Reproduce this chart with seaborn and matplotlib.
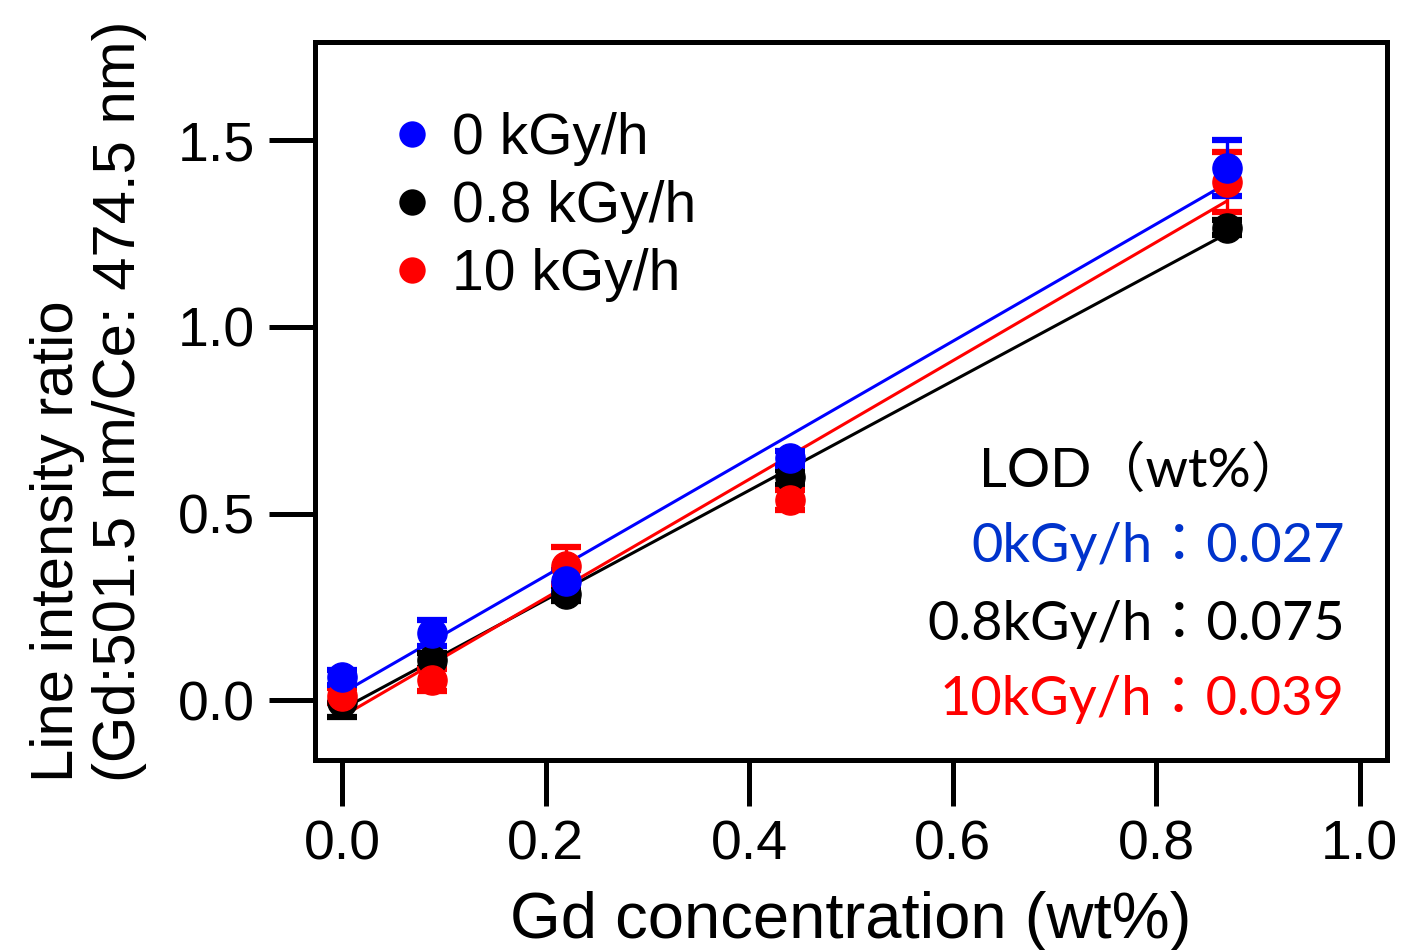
import matplotlib
matplotlib.use("Agg")
import matplotlib.pyplot as plt
from matplotlib.lines import Line2D
import numpy as np
import seaborn as sns

# Gd concentration (wt%) of the calibration samples
gd_conc = [0.0, 0.088, 0.22, 0.44, 0.87]

# Line intensity ratio (Gd 501.5 nm / Ce 474.5 nm) and its standard deviation
ratio_0 = [0.062, 0.180, 0.320, 0.648, 1.425]
err_0 = [0.020, 0.035, 0.030, 0.020, 0.075]
ratio_08 = [-0.005, 0.107, 0.285, 0.597, 1.265]
err_08 = [0.040, 0.020, 0.020, 0.020, 0.020]
ratio_10 = [0.012, 0.054, 0.360, 0.536, 1.388]
err_10 = [0.020, 0.030, 0.050, 0.027, 0.080]

series_labels = ["0 kGy/h", "0.8 kGy/h", "10 kGy/h"]
series_colors = ["#0000FF", "#000000", "#FF0000"]

lod_title = "LOD（wt%）"
lod_lines = ["0kGy/h：0.027", "0.8kGy/h：0.075", "10kGy/h：0.039"]
lod_colors = ["#0033CC", "#000000", "#FF0000"]

x_ticks = [0.0, 0.2, 0.4, 0.6, 0.8, 1.0]
y_ticks = [0.0, 0.5, 1.0, 1.5]

sns.set_style("ticks")
plt.rcParams["font.family"] = ["Liberation Sans", "DejaVu Sans"]
plt.rcParams["text.color"] = "black"
plt.rcParams["axes.labelcolor"] = "black"

fig = plt.figure(figsize=(14.15, 9.5), dpi=100)
ax = fig.add_axes([0.2226, 0.2, 0.7574, 0.7558])

series = [(ratio_08, err_08, 1), (ratio_10, err_10, 2), (ratio_0, err_0, 0)]

# regression lines under the points
for ys, _, ci in series:
    sns.regplot(x=np.array(gd_conc), y=np.array(ys), ax=ax, scatter=False, ci=None,
                truncate=True, color=series_colors[ci],
                line_kws=dict(lw=2.2, zorder=2))

# measured points with error bars
for ys, errs, ci in series:
    ax.errorbar(gd_conc, ys, yerr=errs, fmt="o", color=series_colors[ci],
                ms=21, elinewidth=2.4, capsize=11, capthick=4.5, zorder=3)

ax.set_xlim(-0.0265, 1.0265)
ax.set_ylim(-0.16, 1.7625)
ax.set_xticks(x_ticks)
ax.set_yticks(y_ticks)
ax.set_xticklabels([f"{v:.1f}" for v in x_ticks])
ax.set_yticklabels([f"{v:.1f}" for v in y_ticks])

for s in ax.spines.values():
    s.set_linewidth(3.6)
    s.set_color("black")
ax.tick_params(axis="both", direction="out", length=33, width=3.6,
               labelsize=40, colors="black", pad=10)

ax.set_xlabel("Gd concentration (wt%)", fontsize=47, labelpad=14)
ax.set_ylabel("Line intensity ratio\n(Gd:501.5 nm/Ce: 474.5 nm)", fontsize=43,
              linespacing=1.17, labelpad=22, multialignment="left")

handles = [Line2D([], [], marker="o", ls="none", color=c, ms=19, mew=0)
           for c in series_colors[:3]]
ax.legend(handles, series_labels, loc="upper left", bbox_to_anchor=(0.075, 0.903),
          frameon=False, fontsize=41, handlelength=0.6, handletextpad=0.4,
          labelspacing=0.25, borderpad=0, borderaxespad=0)

lod_font = ["Lato", "Noto Sans CJK JP", "DejaVu Sans"]
ax.text(0.620, 0.404, lod_title, transform=ax.transAxes, ha="left", va="center",
        fontsize=39, family=lod_font, color="black")
for txt, col, yy in zip(lod_lines, lod_colors, [0.2967, 0.189, 0.0836]):
    ax.text(0.961, yy, txt, transform=ax.transAxes, ha="right", va="center",
            fontsize=39, family=lod_font, color=col)

fig.savefig("out.png", dpi=100)
